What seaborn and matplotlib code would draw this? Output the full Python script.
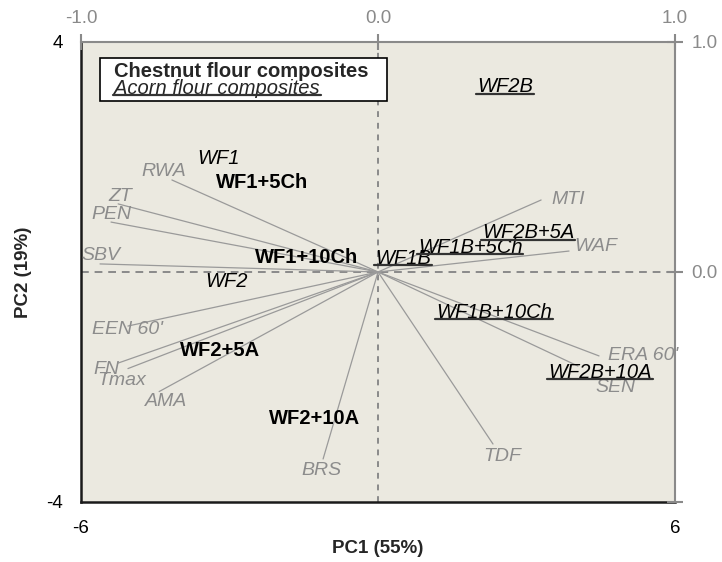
import matplotlib
matplotlib.use("Agg")
import matplotlib.pyplot as plt
from matplotlib.lines import Line2D
from matplotlib.patches import Rectangle
import numpy as np
import pandas as pd
import seaborn as sns

# loadings (variables), line ends in loading units (-1..1)
var_names = ["RWA", "ZT", "PEN", "SBV", "EEN 60'", "FN", "Tmax", "AMA",
             "BRS", "TDF", "ERA 60'", "SEN", "MTI", "WAF"]
var_x = [-0.694, -0.875, -0.899, -0.936, -0.842, -0.875, -0.842, -0.737,
         -0.185, 0.387, 0.744, 0.673, 0.549, 0.643]
var_y = [0.400, 0.296, 0.217, 0.035, -0.235, -0.396, -0.420, -0.520,
         -0.813, -0.748, -0.365, -0.409, 0.313, 0.091]
# where the variable names sit
var_lab_x = [-0.721, -0.869, -0.899, -0.933, -0.842, -0.916, -0.862, -0.714,
             -0.189, 0.418, 0.892, 0.798, 0.640, 0.734]
var_lab_y = [0.439, 0.330, 0.252, 0.070, -0.252, -0.426, -0.470, -0.561,
             -0.865, -0.804, -0.361, -0.504, 0.317, 0.109]

# scores (samples)
samples = ["WF1", "WF1+5Ch", "WF1+10Ch", "WF2", "WF2+5A", "WF2+10A",
           "WF2B", "WF2B+5A", "WF1B+5Ch", "WF1B", "WF1B+10Ch", "WF2B+10A"]
pc1 = [-3.23, -2.34, -1.45, -3.07, -3.19, -1.29,
       2.57, 3.03, 1.86, 0.51, 2.34, 4.48]
pc2 = [1.97, 1.55, 0.26, -0.16, -1.36, -2.54,
       3.22, 0.68, 0.43, 0.24, -0.70, -1.74]
group = ["control", "chestnut", "chestnut", "control", "chestnut", "chestnut",
         "acorn", "acorn", "acorn", "acorn", "acorn", "acorn"]

sns.set_style("white")
plt.rcParams['font.family'] = ['Liberation Sans', 'DejaVu Sans']

fig = plt.figure(figsize=(7.22, 5.62), dpi=100)
pos = [0.1122, 0.1068, 0.8228, 0.8185]
ax = fig.add_axes(pos)
ax.set_facecolor('#EBE9E0')
ax.set_xlim(-6, 6)
ax.set_ylim(-4, 4)

ax2 = fig.add_axes(pos, frameon=False)
ax2.set_xlim(-1, 1)
ax2.set_ylim(-1, 1)

# dashed zero lines
ax.axhline(0, color='#8a8a8a', ls=(0, (4, 3)), lw=1.4, zorder=1)
ax.axvline(0, color='#8a8a8a', ls=(0, (3, 3)), lw=1.4, zorder=1)

# loading vectors
rows = []
for n, x, y in zip(var_names, var_x, var_y):
    rows.append({"var": n, "x": 0.0, "y": 0.0})
    rows.append({"var": n, "x": x, "y": y})
lines_df = pd.DataFrame(rows)
sns.lineplot(data=lines_df, x="x", y="y", units="var", estimator=None,
             sort=False, color='#9a9a9a', lw=0.9, ax=ax2, legend=False)
for n, x, y in zip(var_names, var_lab_x, var_lab_y):
    ax2.text(x, y, n, ha='center', va='center', fontsize=14,
             style='italic', color='#8c8c8c')

# sample labels
underlined = []
for n, x, y, g in zip(samples, pc1, pc2, group):
    if g == "chestnut":
        ax2.text(x / 6, y / 4, n, ha='center', va='center', fontsize=14.5,
                 fontweight='bold', color='black')
    elif g == "control":
        ax2.text(x / 6, y / 4, n, ha='center', va='center', fontsize=14.5,
                 style='italic', color='black')
    else:
        t = ax2.text(x / 6, y / 4, n, ha='center', va='center', fontsize=14.5,
                     style='italic', color='black')
        underlined.append(t)

# legend box
ax2.add_patch(Rectangle((0.032, 0.872), 0.483, 0.093, transform=ax2.transAxes,
                        facecolor='white', edgecolor='black', lw=1.2, zorder=5))
ax2.text(0.056, 0.936, "Chestnut flour composites", transform=ax2.transAxes,
         fontsize=14.5, fontweight='bold', va='center', ha='left', zorder=6)
t = ax2.text(0.056, 0.899, "Acorn flour composites", transform=ax2.transAxes,
             fontsize=14.5, style='italic', va='center', ha='left', zorder=6)
underlined.append(t)

# axes, ticks
ax.set_xticks([-6, 0, 6])
ax.set_xticklabels(['-6', '', '6'])
ax.set_yticks([-4, 0, 4])
ax.set_yticklabels(['-4', '', '4'])
ax.tick_params(axis='both', direction='inout', length=12, width=1.5,
               colors='black', labelsize=13.5, pad=7)
for s in ['left', 'bottom']:
    ax.spines[s].set_color('#1a1a1a')
    ax.spines[s].set_linewidth(1.8)
for s in ['top', 'right']:
    ax.spines[s].set_color('#8a8a8a')
    ax.spines[s].set_linewidth(1.5)

ax2.xaxis.tick_top()
ax2.yaxis.tick_right()
ax2.set_xticks([-1, 0, 1])
ax2.set_xticklabels(['-1.0', '0.0', '1.0'])
ax2.set_yticks([-1, 0, 1])
ax2.set_yticklabels(['', '0.0', '1.0'])
ax2.tick_params(axis='both', direction='inout', length=12, width=1.5,
                colors='#8a8a8a', labelsize=13.5)
ax2.tick_params(axis='x', pad=5)
ax2.tick_params(axis='y', pad=6)
ax2.set_xlabel('')
ax2.set_ylabel('')

ax.set_xlabel('PC1 (55%)', fontsize=13.5, fontweight='bold', labelpad=2)
ax.set_ylabel('PC2 (19%)', fontsize=13.5, fontweight='bold', labelpad=10)

# underline the italic acorn labels
fig.canvas.draw()
r = fig.canvas.get_renderer()
inv = fig.transFigure.inverted()
for t in underlined:
    bb = t.get_window_extent(renderer=r)
    y = bb.y0 + 2.5
    (x0, y0) = inv.transform((bb.x0 - 1, y))
    (x1, _) = inv.transform((bb.x1 + 1, y))
    fig.add_artist(Line2D([x0, x1], [y0, y0], color='#333333', lw=1.6,
                          zorder=7))

fig.savefig('out.png', dpi=100)
